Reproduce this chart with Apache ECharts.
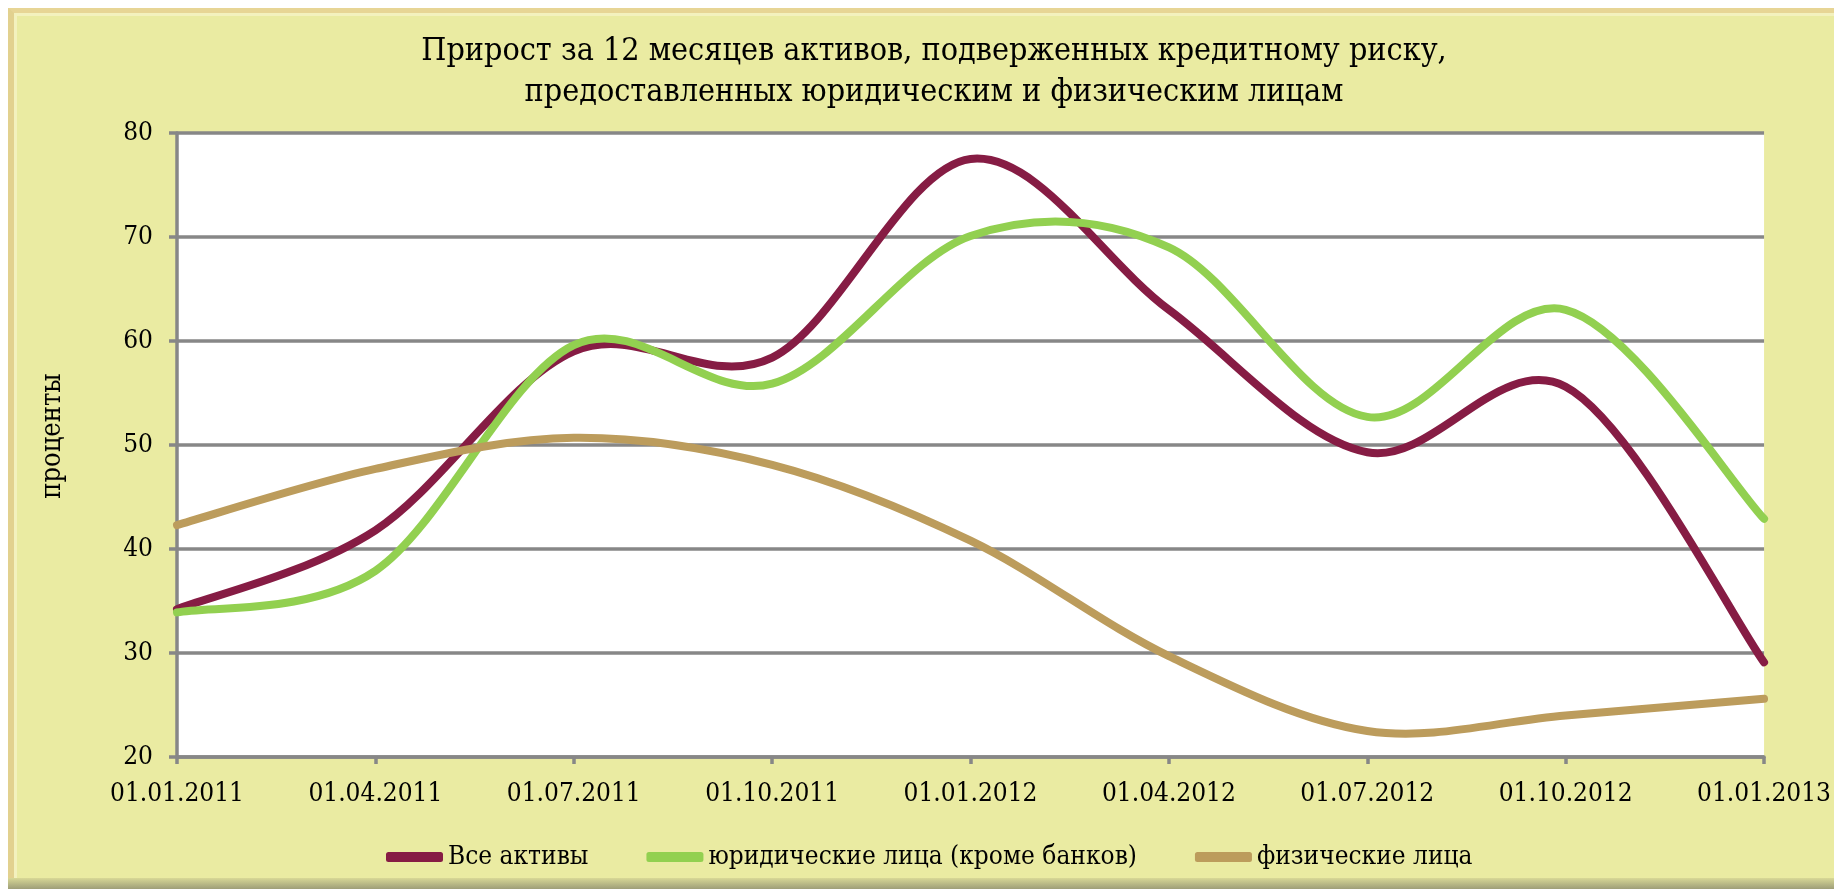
<!DOCTYPE html>
<html>
<head>
<meta charset="utf-8">
<script src="https://cdn.jsdelivr.net/npm/echarts@6/dist/echarts.min.js"></script>
<style>
  html, body { margin:0; padding:0; background:#ffffff; width:1834px; height:889px; overflow:hidden; }
  #panel {
    position:absolute; left:8px; top:8px; width:1840px; height:872px;
    background:#EAEBA2;
    border-top:5px solid #E7D595;
    border-left:6px solid #E2D18F;
    box-shadow: inset 3px 3px 0 #F3F1BE, 0 1px 0 #cfcfb8;
  }
  #shadow {
    position:absolute; left:8px; top:878px; width:1840px; height:11px;
    background:linear-gradient(#D8D896, #9E9E78);
  }
  #chart { position:absolute; left:0; top:0; width:1834px; height:889px; }
</style>
</head>
<body>
<div id="panel"></div>
<div id="shadow"></div>
<div id="chart"></div>
<script>
const categories = ['01.01.2011','01.04.2011','01.07.2011','01.10.2011','01.01.2012','01.04.2012','01.07.2012','01.10.2012','01.01.2013'];
const seriesNames = ['Все активы','юридические лица (кроме банков)','физические лица'];
const allAssets = [34.2, 41.8, 59.0, 58.4, 77.5, 63.0, 49.3, 55.6, 29.1];
const legalEntities = [33.9, 37.9, 59.6, 55.9, 70.1, 69.0, 52.7, 63.0, 42.9];
const individuals = [42.3, 47.7, 50.7, 48.1, 40.8, 29.7, 22.5, 24.0, 25.6];
const titleLines = ['Прирост за 12 месяцев активов, подверженных кредитному риску,', 'предоставленных юридическим и физическим лицам'];
const yAxisName = 'проценты';

function fontAvailable(name) {
  const c = document.createElement('canvas').getContext('2d');
  const s = 'abcdefghij0123456789проценты';
  c.font = '40px monospace'; const w0 = c.measureText(s).width;
  c.font = '40px "' + name + '", monospace'; const w1 = c.measureText(s).width;
  return Math.abs(w0 - w1) > 0.5;
}
const CONDENSED = fontAvailable('DejaVu Serif Condensed');
const FONT = CONDENSED ? 'DejaVu Serif Condensed' : 'DejaVu Serif';
const K = CONDENSED ? 1 : 0.9;

const GRID = '#878787';
const colors = ['#861C44', '#92D050', '#BC9C5C'];

// Excel-like smooth curve (Catmull-Rom as cubic Bezier) through the data's own pixel coordinates
function smoothPath(pts) {
  let d = 'M' + pts[0][0] + ' ' + pts[0][1];
  const n = pts.length;
  for (let i = 0; i < n - 1; i++) {
    const p0 = pts[Math.max(i - 1, 0)], p1 = pts[i], p2 = pts[i + 1], p3 = pts[Math.min(i + 2, n - 1)];
    const c1x = p1[0] + (p2[0] - p0[0]) / 6, c1y = p1[1] + (p2[1] - p0[1]) / 6;
    const c2x = p2[0] - (p3[0] - p1[0]) / 6, c2y = p2[1] - (p3[1] - p1[1]) / 6;
    d += ' C' + c1x + ' ' + c1y + ' ' + c2x + ' ' + c2y + ' ' + p2[0] + ' ' + p2[1];
  }
  return d;
}

function mkSeries(name, values, color) {
  return {
    name: name, type: 'custom',
    data: values.map(function (v, i) { return [i, v]; }),
    encode: { x: 0, y: 1 },
    itemStyle: { color: color },
    z: 3,
    renderItem: function (params, api) {
      if (params.dataIndex !== 0) return null;
      const pts = values.map(function (v, i) { return api.coord([i, v]); });
      return {
        type: 'path',
        shape: { pathData: smoothPath(pts) },
        style: { fill: 'none', stroke: color, lineWidth: 8, lineCap: 'round', lineJoin: 'round' }
      };
    }
  };
}

const chart = echarts.init(document.getElementById('chart'), null, {renderer:'canvas'});
chart.setOption({
  backgroundColor: 'transparent',
  animation: false,
  color: colors,
  title: {
    text: titleLines.join('\n'),
    left: 934, top: 31, padding: 0,
    textAlign: 'center',
    textStyle: { fontFamily: FONT, fontSize: Math.round(32 * K), fontWeight: 'normal', color: '#000', lineHeight: 41 }
  },
  legend: {
    left: 386, top: 842, padding: 0,
    icon: 'roundRect', itemWidth: 57, itemHeight: 10, itemGap: 58,
    textStyle: { fontFamily: FONT, fontSize: Math.round(26 * K), color: '#000', lineHeight: 30 },
    data: seriesNames
  },
  grid: {
    left: 177, right: 64, top: 133, bottom: 132,
    show: true, backgroundColor: '#ffffff', borderWidth: 0, containLabel: false
  },
  xAxis: {
    type: 'category', data: categories, boundaryGap: false,
    axisLine: { show: true, lineStyle: { color: GRID, width: 3.5 } },
    axisTick: { show: true, inside: false, length: 7, lineStyle: { color: GRID, width: 3.5 } },
    axisLabel: { fontFamily: FONT, fontSize: Math.round(26 * K), color: '#000', margin: 24 },
    splitLine: { show: false }
  },
  yAxis: {
    type: 'value', min: 20, max: 80, interval: 10,
    name: yAxisName, nameLocation: 'middle', nameGap: 111, nameRotate: 90,
    nameTextStyle: { fontFamily: FONT, fontSize: Math.round(27 * K), color: '#000', padding: [0, 0, 0, 18] },
    axisLine: { show: true, lineStyle: { color: GRID, width: 3.5 } },
    axisTick: { show: true, inside: false, length: 8, lineStyle: { color: GRID, width: 3.5 } },
    axisLabel: { fontFamily: FONT, fontSize: Math.round(26 * K), color: '#000', margin: 24 },
    splitLine: { show: true, lineStyle: { color: GRID, width: 3.5 } }
  },
  series: [
    mkSeries(seriesNames[0], allAssets, colors[0]),
    mkSeries(seriesNames[1], legalEntities, colors[1]),
    mkSeries(seriesNames[2], individuals, colors[2])
  ]
});
</script>
</body>
</html>
